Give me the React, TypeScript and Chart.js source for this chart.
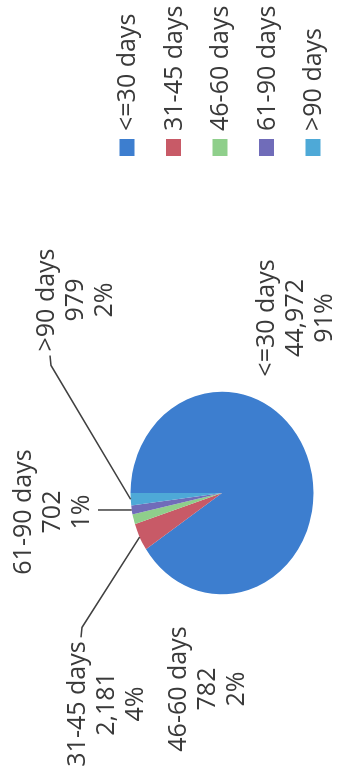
import React, { useEffect, useRef } from 'react';
import { Chart, registerables } from 'chart.js';

Chart.register(...registerables);

// ---- data ----
const CATEGORIES = ['<=30 days', '31-45 days', '46-60 days', '61-90 days', '>90 days'];
const VALUES = [44972, 2181, 782, 702, 979];
const COLORS = ['#3d7ecf', '#c85a67', '#8fcf8b', '#706cb9', '#4ea9d7'];

// ---- layout / style (unrotated chart is 778 x 341, then turned 90deg to the left) ----
const W = 778;
const H = 341;
const FONT = '25px "Open Sans"';
const TEXT_COLOR = '#3a3a3a';
const LINE_COLOR = '#404040';
const LINE_H = 29;
const SX = 1.055; // slight scan distortion of the pie
const SY = 0.953;
const LABEL_LAYOUT = [
  { dx: 175, dy: 74, leader: 'none' },
  { dx: -211, dy: -115, leader: 'right' },
  { dx: -196, dy: -14, leader: 'none' },
  { dx: -19, dy: -169, leader: 'bottom' },
  { dx: 193, dy: -146, leader: 'left' },
];
const LEG_X = 622;
const LEG_TOP = 127;
const LEG_STEP = 46.5;
const LEG_BOX_W = 17;
const LEG_BOX_H = 15;

const total = VALUES.reduce((a, b) => a + b, 0);

const piePlugin = {
  id: 'pieDecor',
  beforeDatasetsDraw(chart: any) {
    const arc = chart.getDatasetMeta(0).data[0];
    const { x, y } = arc.getProps(['x', 'y'], true);
    const ctx = chart.ctx;
    ctx.save();
    ctx.translate(x, y);
    ctx.scale(SX, SY);
    ctx.translate(-x, -y);
  },
  afterDatasetsDraw(chart: any) {
    const ctx = chart.ctx;
    ctx.restore();
    const meta = chart.getDatasetMeta(0);
    ctx.save();
    ctx.font = FONT;
    ctx.fillStyle = TEXT_COLOR;
    ctx.textAlign = 'center';
    ctx.textBaseline = 'middle';
    meta.data.forEach((arc: any, i: number) => {
      const p = arc.getProps(['x', 'y', 'startAngle', 'endAngle', 'outerRadius'], true);
      const mid = (p.startAngle + p.endAngle) / 2;
      const ex = p.x + Math.cos(mid) * p.outerRadius * SX;
      const ey = p.y + Math.sin(mid) * p.outerRadius * SY;
      const lay = LABEL_LAYOUT[i];
      const lx = p.x + lay.dx;
      const ly = p.y + lay.dy;
      const lines = [
        CATEGORIES[i],
        VALUES[i].toLocaleString('en-US'),
        Math.round((VALUES[i] / total) * 100) + '%',
      ];
      lines.forEach((t, k) => {
        ctx.fillText(t, lx, ly + (k - 1) * LINE_H);
      });
      const w0 = ctx.measureText(lines[0]).width;
      ctx.strokeStyle = LINE_COLOR;
      ctx.lineWidth = 1.5;
      if (lay.leader === 'left' || lay.leader === 'right') {
        const s = lay.leader === 'left' ? -1 : 1;
        const ax = lx + s * (w0 / 2 + 4);
        const ay = ly - LINE_H + 3;
        ctx.beginPath();
        ctx.moveTo(ax, ay);
        ctx.lineTo(ax + s * 10, ay + 1);
        ctx.lineTo(ex, ey);
        ctx.stroke();
      } else if (lay.leader === 'bottom') {
        const ay = ly + LINE_H + 16;
        ctx.beginPath();
        ctx.moveTo(ex, ay);
        ctx.lineTo(ex, ey);
        ctx.stroke();
      }
    });
    // legend
    ctx.textAlign = 'left';
    CATEGORIES.forEach((c, i) => {
      const cy = LEG_TOP + i * LEG_STEP;
      ctx.fillStyle = COLORS[i];
      ctx.fillRect(LEG_X, cy - LEG_BOX_H / 2, LEG_BOX_W, LEG_BOX_H);
      ctx.fillStyle = TEXT_COLOR;
      ctx.fillText(c, LEG_X + LEG_BOX_W + 8, cy + 1);
    });
    ctx.restore();
  },
};

export default function App() {
  const ref = useRef<HTMLCanvasElement | null>(null);
  useEffect(() => {
    if (!ref.current) return;
    const chart = new Chart(ref.current, {
      type: 'pie',
      data: {
        labels: CATEGORIES,
        datasets: [
          {
            data: VALUES,
            backgroundColor: COLORS,
            borderWidth: 0,
          },
        ],
      },
      options: {
        responsive: false,
        animation: false,
        devicePixelRatio: 1,
        layout: { padding: { left: 189, right: 397, top: 126, bottom: 23 } },
        plugins: {
          legend: { display: false },
          tooltip: { enabled: false },
        },
      },
      plugins: [piePlugin],
    });
    return () => chart.destroy();
  }, []);
  return (
    <div
      style={{
        position: 'absolute',
        left: 0,
        top: 0,
        width: W,
        height: H,
        background: '#fff',
        transformOrigin: '0 0',
        transform: `translate(0px, ${W}px) rotate(-90deg)`,
      }}
    >
      <canvas ref={ref} width={W} height={H} style={{ width: W, height: H, display: 'block' }} />
    </div>
  );
}
